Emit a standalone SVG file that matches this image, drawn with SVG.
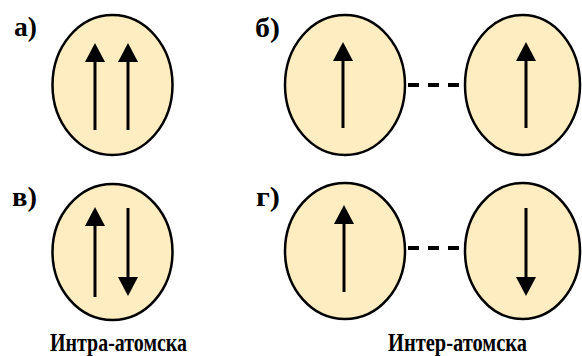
<svg xmlns="http://www.w3.org/2000/svg" width="582" height="356" viewBox="0 0 582 356">
<style>
.atom{fill:#FDEDC0;stroke:#000;stroke-width:2.5}
.spin{stroke:#000;stroke-width:3;fill:none;marker-end:url(#head)}
.link{stroke:#000;stroke-width:4;stroke-dasharray:11 9;fill:none}
</style>
<defs>
<marker id="head" markerUnits="userSpaceOnUse" viewBox="0 0 19 20" markerWidth="19" markerHeight="20" refX="6" refY="10" orient="auto">
<path d="M0,0 L19,10 L0,20 Z" fill="#000"/>
</marker>
</defs>
<rect width="582" height="356" fill="#fff"/>
<g font-family="Liberation Serif, DejaVu Serif, serif" font-weight="bold" font-size="28" fill="#000">
<g id="label-a"><text x="14" y="36" textLength="23" lengthAdjust="spacingAndGlyphs">а)</text></g>
<g id="label-b"><text x="255" y="37" textLength="25" lengthAdjust="spacingAndGlyphs">б)</text></g>
<g id="label-v"><text x="12" y="206" textLength="25" lengthAdjust="spacingAndGlyphs">в)</text></g>
<g id="label-g"><text x="256" y="206" textLength="24" lengthAdjust="spacingAndGlyphs">г)</text></g>
</g>
<g id="atom-a">
<ellipse class="atom" cx="112.5" cy="85" rx="60" ry="70"/>
<line class="spin" x1="95" y1="130" x2="95" y2="56"/>
<line class="spin" x1="128" y1="130" x2="128" y2="56"/>
</g>
<g id="atom-b1">
<ellipse class="atom" cx="345" cy="85" rx="60" ry="70"/>
<line class="spin" x1="343" y1="128" x2="343" y2="55"/>
</g>
<g id="atom-b2">
<ellipse class="atom" cx="522.5" cy="85" rx="57.5" ry="70"/>
<line class="spin" x1="526" y1="128" x2="526" y2="55"/>
</g>
<g id="atom-v">
<ellipse class="atom" cx="112.5" cy="252" rx="60" ry="68"/>
<line class="spin" x1="95" y1="297" x2="95" y2="220"/>
<line class="spin" x1="128" y1="208" x2="128" y2="283"/>
</g>
<g id="atom-g1">
<ellipse class="atom" cx="345" cy="251" rx="60" ry="68"/>
<line class="spin" x1="344" y1="292" x2="344" y2="218"/>
</g>
<g id="atom-g2">
<ellipse class="atom" cx="522.5" cy="251" rx="57.5" ry="68"/>
<line class="spin" x1="526" y1="208" x2="526" y2="283"/>
</g>
<g id="connectors">
<line class="link" x1="408" y1="85" x2="464" y2="85"/>
<line class="link" x1="408" y1="248" x2="464" y2="248"/>
</g>
<g font-family="Liberation Serif, DejaVu Serif, serif" font-weight="bold" font-size="26" fill="#000">
<g id="caption-intra"><text x="50" y="351" textLength="137" lengthAdjust="spacingAndGlyphs">Интра-атомска</text></g>
<g id="caption-inter"><text x="388" y="351" textLength="139" lengthAdjust="spacingAndGlyphs">Интер-атомска</text></g>
</g>
</svg>
